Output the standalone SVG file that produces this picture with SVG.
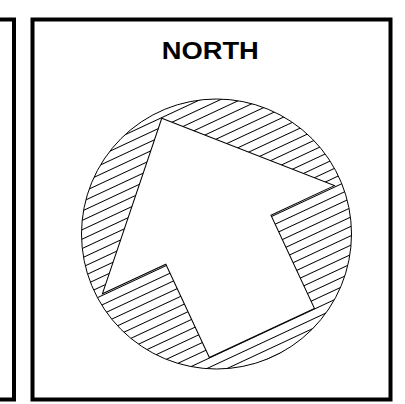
<svg xmlns="http://www.w3.org/2000/svg" width="405" height="404" viewBox="0 0 405 404">
<style>
.frame{fill:none;stroke:#000;stroke-width:4}
.thin{stroke:#000;stroke-width:1}
.title{font-family:"Liberation Sans",Arial,sans-serif;font-weight:bold;font-size:23.5px}
</style>
<defs>
<pattern id="hatch" patternUnits="userSpaceOnUse" width="40" height="8.5" patternTransform="translate(218.4 239.7) rotate(-25)">
<rect width="40" height="8.5" fill="#fff"/>
<line x1="0" y1="1.5" x2="40" y2="1.5" stroke="#000" stroke-width="1"/>
</pattern>
</defs>
<rect width="405" height="404" fill="#fff"/>
<g id="left-panel">
<path class="frame" d="M0 19.5 H14 V399.5 H0"/>
</g>
<g id="north-panel">
<rect class="frame" x="32.5" y="19.5" width="358" height="380"/>
<text class="title" x="210.3" y="59.3" text-anchor="middle" textLength="97" lengthAdjust="spacingAndGlyphs">NORTH</text>
</g>
<g id="compass">
<circle class="thin" cx="216.5" cy="234" r="135" fill="url(#hatch)"/>
<polygon class="thin" fill="#fff" transform="translate(218.4 239.7) rotate(-25)" points="0,-134 128,0 58,0 58,103 -58,103 -58,0 -128,0"/>
</g>
<g id="connectors"/>
</svg>
